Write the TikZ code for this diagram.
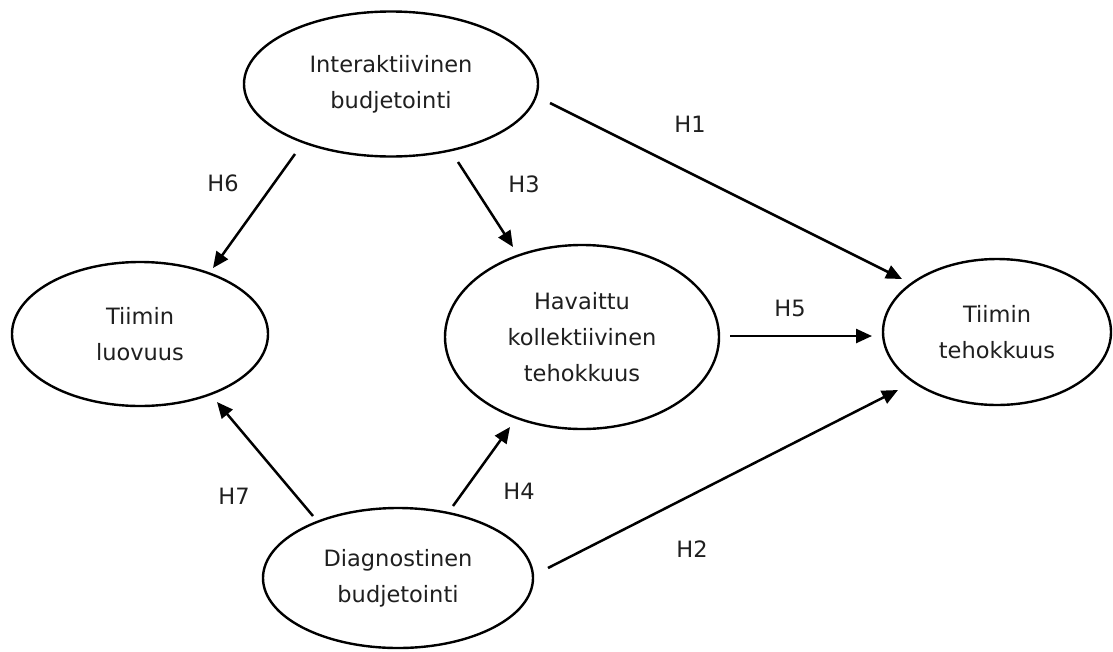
\documentclass[tikz,border=0pt]{standalone}
\usepackage{fontspec}
\setmainfont{DejaVu Sans}
\usetikzlibrary{shapes.geometric,arrows.meta}
\begin{document}
\begin{tikzpicture}[x=1pt,y=-1pt,
  construct/.style={draw=black, line width=2.4pt, ellipse, inner sep=0pt, align=center,
    text=black!88, font={\fontsize{22.5}{36}\selectfont}},
  hyp/.style={text=black!88, font={\fontsize{22.5}{25}\selectfont}, inner sep=0pt},
  link/.style={line width=2.5pt, -{Triangle[length=16pt,width=14pt]}}]
\useasboundingbox (0,0) rectangle (1113,651);
\fill[white] (0,0) rectangle (1113,651);
% constructs
\node[construct, minimum width=294pt, minimum height=145pt] (ib) at (391,84) {Interaktiivinen\\budjetointi};
\node[construct, minimum width=256pt, minimum height=144pt] (tl) at (140,334) {Tiimin\\luovuus};
\node[construct, minimum width=274pt, minimum height=184pt] (hk) at (582,337) {Havaittu\\kollektiivinen\\tehokkuus};
\node[construct, minimum width=228pt, minimum height=146pt] (tt) at (997,332) {Tiimin\\tehokkuus};
\node[construct, minimum width=270pt, minimum height=140pt] (db) at (398,578) {Diagnostinen\\budjetointi};
% connector endpoints
\coordinate (h1s) at (550,103);  \coordinate (h1e) at (902,279);
\coordinate (h2s) at (548,568);  \coordinate (h2e) at (898,390);
\coordinate (h3s) at (458,162);  \coordinate (h3e) at (513,247);
\coordinate (h4s) at (453,506);  \coordinate (h4e) at (510,427);
\coordinate (h5s) at (730,336);  \coordinate (h5e) at (872,336);
\coordinate (h6s) at (295,154);  \coordinate (h6e) at (213,268);
\coordinate (h7s) at (313,516);  \coordinate (h7e) at (217,402);
\draw[link] (h1s) -- (h1e);
\draw[link] (h2s) -- (h2e);
\draw[link] (h3s) -- (h3e);
\draw[link] (h4s) -- (h4e);
\draw[link] (h5s) -- (h5e);
\draw[link] (h6s) -- (h6e);
\draw[link] (h7s) -- (h7e);
% labels
\node[hyp] (l1) at (690,124) {H1};
\node[hyp] (l2) at (692,549) {H2};
\node[hyp] (l3) at (524,184) {H3};
\node[hyp] (l4) at (519,491) {H4};
\node[hyp] (l5) at (790,308) {H5};
\node[hyp] (l6) at (223,183) {H6};
\node[hyp] (l7) at (234,496) {H7};
\end{tikzpicture}
\end{document}
